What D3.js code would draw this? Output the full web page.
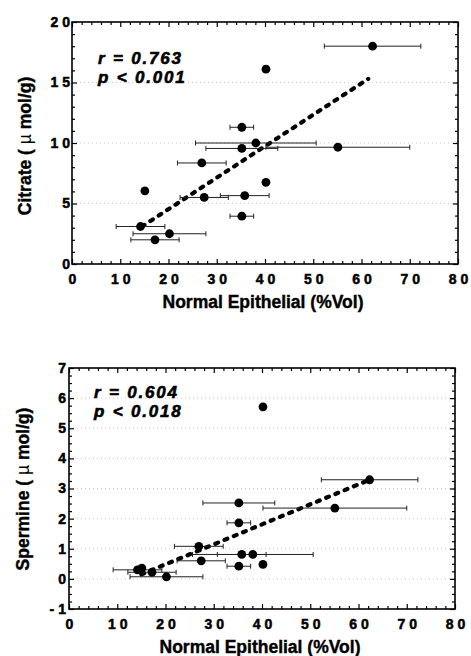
<!DOCTYPE html>
<html>
<head>
<meta charset="utf-8">
<script src="https://cdn.jsdelivr.net/npm/d3@7"></script>
<style>
  body { margin: 0; background: #fff; }
  svg { display: block; font-family: "Liberation Sans", Arial, Helvetica, sans-serif; }
</style>
</head>
<body>
<svg id="chart" width="471" height="656"></svg>
<script>
// Data (same 15 samples in both panels)
var epithelial = [62.3, 40.2, 35.2, 38.1, 35.2, 55.1, 26.9, 40.2, 15.1, 27.4, 35.8, 35.2, 14.2, 20.2, 17.2];
var epithelialErr = [10, 0, 2.45, 12.5, 7.45, 14.9, 5.05, 0, 0, 5, 5.05, 2.45, 5.05, 7.55, 5];
var citrate = [18.0, 16.1, 11.3, 10.0, 9.55, 9.65, 8.35, 6.75, 6.05, 5.5, 5.65, 3.95, 3.1, 2.5, 2.0];
var spermine = [3.29, 5.71, 1.86, 0.81, 2.52, 2.35, 1.08, 0.48, 0.36, 0.6, 0.81, 0.42, 0.3, 0.07, 0.22];

// regression line end points
var citrateFitX = [14.5, 61.4];
var citrateFitY = [3.1, 15.3];
var spermineFitX = [15, 61.7];
var spermineFitY = [0.15, 3.25];

var xTicks = [0, 10, 20, 30, 40, 50, 60, 70, 80];
var citrateTicks = [0, 5, 10, 15, 20];
var spermineTicks = [-1, 0, 1, 2, 3, 4, 5, 6, 7];

var svg = d3.select('#chart');

drawPanel = function(p) {
  const g = svg.append('g');
  const width = p.right - p.left;
  const height = p.bottom - p.top;

  const xscale = d3.scaleLinear().domain([0, 80]).range([p.left, p.right]);
  const yscale = d3.scaleLinear().domain(p.yDomain).range([p.bottom, p.top]);
  const plain = function(d) { return String(d); };

  // dotted grid at inner major ticks
  g.selectAll('.grid')
    .data(p.yTicks.filter(function(d) { return d > p.yDomain[0] && d < p.yDomain[1]; }))
    .enter().append('line')
    .attr('x1', p.left).attr('x2', p.right)
    .attr('y1', function(d) { return yscale(d); })
    .attr('y2', function(d) { return yscale(d); })
    .style('stroke', '#bbb')
    .style('stroke-width', 0.8)
    .style('stroke-dasharray', '1,3');

  // ticks on all four sides, pointing inward
  var xMinor = d3.range(0, 81, 2).filter(function(d) { return d % 10 != 0; });
  var yMinor = d3.range(p.yDomain[0], p.yDomain[1] + 0.001, p.yMinorStep)
    .filter(function(d) { return p.yTicks.indexOf(Math.round(d * 100) / 100) < 0; });

  const bottomAxis = g.append('g').attr('transform', `translate(0,${p.bottom})`)
    .call(d3.axisBottom(xscale).tickValues(xTicks).tickSize(-5).tickPadding(10).tickFormat(plain));
  g.append('g').attr('transform', `translate(0,${p.bottom})`)
    .call(d3.axisBottom(xscale).tickValues(xMinor).tickSize(-3).tickFormat(''));
  g.append('g').attr('transform', `translate(0,${p.top})`)
    .call(d3.axisTop(xscale).tickValues(xTicks).tickSize(-5).tickFormat(''));
  g.append('g').attr('transform', `translate(0,${p.top})`)
    .call(d3.axisTop(xscale).tickValues(xMinor).tickSize(-3).tickFormat(''));

  const leftAxis = g.append('g').attr('transform', `translate(${p.left},0)`)
    .call(d3.axisLeft(yscale).tickValues(p.yTicks).tickSize(-5).tickPadding(p.yPad).tickFormat(plain));
  g.append('g').attr('transform', `translate(${p.left},0)`)
    .call(d3.axisLeft(yscale).tickValues(yMinor).tickSize(-3).tickFormat(''));
  g.append('g').attr('transform', `translate(${p.right},0)`)
    .call(d3.axisRight(yscale).tickValues(p.yTicks).tickSize(-5).tickFormat(''));
  g.append('g').attr('transform', `translate(${p.right},0)`)
    .call(d3.axisRight(yscale).tickValues(yMinor).tickSize(-3).tickFormat(''));

  g.selectAll('.domain').remove();
  g.selectAll('.tick line').style('stroke', '#000').style('stroke-width', 1.2);
  g.selectAll('.tick text')
    .style('font-family', 'Liberation Sans, Arial, sans-serif')
    .style('font-size', '14px')
    .style('font-weight', 'bold')
    .style('letter-spacing', '4px')
    .style('fill', '#000')
    .style('stroke', '#000')
    .style('stroke-width', 0.5);
  bottomAxis.selectAll('.tick text').attr('dx', 2);
  leftAxis.selectAll('.tick text').attr('dx', 4);

  // frame
  g.append('rect')
    .attr('x', p.left).attr('y', p.top)
    .attr('width', width).attr('height', height)
    .style('fill', 'none')
    .style('stroke', '#000')
    .style('stroke-width', 1.6);

  // regression line
  var fit = p.fitX.map(function(d, i) { return {x: d, y: p.fitY[i]}; });
  g.append('path')
    .datum(fit)
    .attr('d', d3.line().x(function(d) { return xscale(d.x); }).y(function(d) { return yscale(d.y); }))
    .style('fill', 'none')
    .style('stroke', '#000')
    .style('stroke-width', 4.2)
    .style('stroke-linecap', 'round')
    .style('stroke-dasharray', '3,7');

  var pts = epithelial.map(function(d, i) { return {x: d, e: epithelialErr[i], y: p.values[i]}; });

  // horizontal error bars
  var bars = g.selectAll('.err').data(pts.filter(function(d) { return d.e > 0; }))
    .enter().append('g').attr('class', 'err')
    .style('stroke', '#222').style('stroke-width', 1);
  bars.append('line')
    .attr('x1', function(d) { return xscale(d.x - d.e); })
    .attr('x2', function(d) { return xscale(d.x + d.e); })
    .attr('y1', function(d) { return yscale(d.y); })
    .attr('y2', function(d) { return yscale(d.y); });
  [-1, 1].forEach(function(s) {
    bars.append('line')
      .attr('x1', function(d) { return xscale(d.x + s * d.e); })
      .attr('x2', function(d) { return xscale(d.x + s * d.e); })
      .attr('y1', function(d) { return yscale(d.y) - 2.5; })
      .attr('y2', function(d) { return yscale(d.y) + 2.5; });
  });

  g.selectAll('.dot').data(pts)
    .enter().append('circle')
    .attr('cx', function(d) { return xscale(d.x); })
    .attr('cy', function(d) { return yscale(d.y); })
    .attr('r', 4.4)
    .style('fill', '#000');

  // statistics
  var stats = g.append('text')
    .style('font-size', '17px')
    .style('font-weight', 'bold')
    .style('font-style', 'italic')
    .style('letter-spacing', '1.8px')
    .style('stroke', '#000')
    .style('stroke-width', 0.6);
  stats.append('tspan').attr('x', p.statX).attr('y', p.statY).text(p.rText);
  stats.append('tspan').attr('x', p.statX).attr('y', p.statY + 19).text(p.pText);

  // axis titles
  g.append('text')
    .attr('x', (p.left + p.right) / 2 - 2)
    .attr('y', p.xTitleY)
    .attr('text-anchor', 'middle')
    .style('font-size', '17.5px')
    .style('font-weight', 'bold')
    .style('stroke', '#000')
    .style('stroke-width', 0.4)
    .text('Normal Epithelial (%Vol)');

  var yt = g.append('text')
    .attr('transform', `translate(${p.yTitleX},${p.yTitleY}) rotate(-90)`)
    .attr('text-anchor', 'middle')
    .style('font-size', '17.5px')
    .style('font-weight', 'bold')
    .style('stroke', '#000')
    .style('stroke-width', 0.4);
  yt.append('tspan').text(p.yName + ' ( ');
  yt.append('tspan').style('font-weight', 'normal').style('stroke-width', 0).text('\u00b5');
  yt.append('tspan').text(' mol/g)');
};

drawPanel({
  left: 72, right: 458, top: 22, bottom: 264,
  yDomain: [0, 20], yTicks: citrateTicks, yMinorStep: 1, yPad: 2,
  values: citrate, fitX: citrateFitX, fitY: citrateFitY,
  statX: 98, statY: 64, rText: 'r = 0.763', pText: 'p < 0.001',
  xTitleY: 308, yTitleX: 31, yTitleY: 146, yName: 'Citrate'
});

drawPanel({
  left: 69, right: 455, top: 368, bottom: 609,
  yDomain: [-1, 7], yTicks: spermineTicks, yMinorStep: 0.25, yPad: 3,
  values: spermine, fitX: spermineFitX, fitY: spermineFitY,
  statX: 94, statY: 398, rText: 'r = 0.604', pText: 'p < 0.018',
  xTitleY: 653, yTitleX: 29, yTitleY: 489, yName: 'Spermine'
});
</script>
</body>
</html>
